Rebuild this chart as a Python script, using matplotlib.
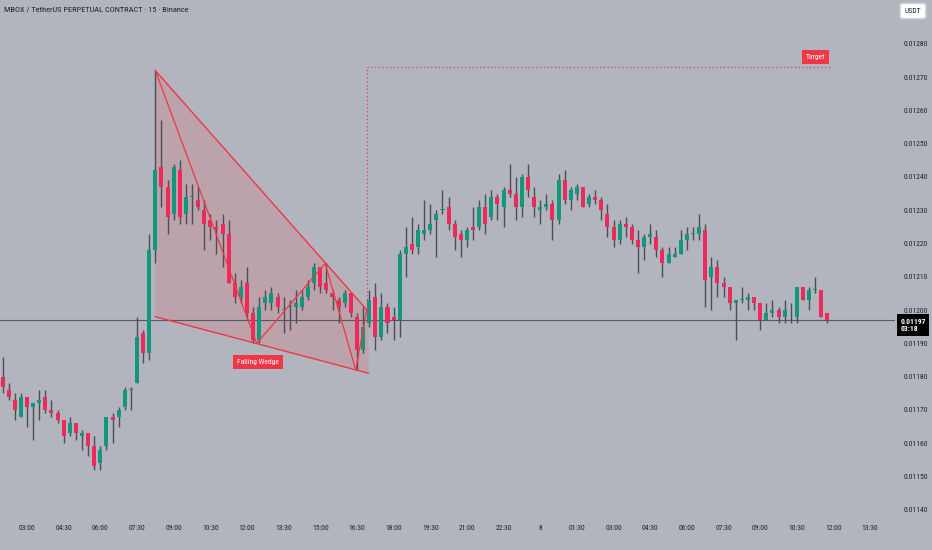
import numpy as np
import matplotlib.pyplot as plt
from matplotlib.patches import Polygon

# 15-minute candles, x = candle index counted from 03:00 of day 1
t = np.arange(-4, 132)

opens = [0.01180, 0.01176, 0.01173, 0.01168, 0.01174, 0.01171, 0.01172, 0.01174, 0.01170, 0.01169,
         0.01167, 0.01163, 0.01166, 0.01162, 0.01163, 0.01159, 0.01154, 0.01159, 0.01168, 0.01168,
         0.01171, 0.01176, 0.01178, 0.01193, 0.01187, 0.01218, 0.01243, 0.01237, 0.01229, 0.01242,
         0.01229, 0.01234, 0.01233, 0.01230, 0.01227, 0.01225, 0.01226, 0.01223, 0.01208, 0.01204,
         0.01208, 0.01199, 0.01191, 0.01202, 0.01202, 0.01204, 0.01200, 0.01201, 0.01201, 0.01201,
         0.01204, 0.01208, 0.01213, 0.01208, 0.01205, 0.01203, 0.01202, 0.01205, 0.01198, 0.01188,
         0.01196, 0.01204, 0.01192, 0.01201, 0.01198, 0.01197, 0.01217, 0.01220, 0.01219, 0.01223,
         0.01224, 0.01227, 0.01230, 0.01231, 0.01226, 0.01223, 0.01221, 0.01225, 0.01225, 0.01231,
         0.01228, 0.01234, 0.01231, 0.01236, 0.01235, 0.01231, 0.01240, 0.01234, 0.01230, 0.01231,
         0.01232, 0.01227, 0.01239, 0.01233, 0.01235, 0.01237, 0.01232, 0.01234, 0.01233, 0.01229,
         0.01225, 0.01221, 0.01226, 0.01225, 0.01221, 0.01219, 0.01222, 0.01222, 0.01218, 0.01214,
         0.01216, 0.01217, 0.01221, 0.01223, 0.01223, 0.01224, 0.01210, 0.01213, 0.01208, 0.01207,
         0.01202, 0.01203, 0.01203, 0.01204, 0.01202, 0.01197, 0.01199, 0.01200, 0.01198, 0.01199,
         0.01198, 0.01207, 0.01203, 0.01206, 0.01206, 0.01199]
highs = [0.01186, 0.01178, 0.01175, 0.01175, 0.01174, 0.01172, 0.01176, 0.01176, 0.01173, 0.01170,
         0.01167, 0.01168, 0.01166, 0.01164, 0.01163, 0.01162, 0.01159, 0.01168, 0.01169, 0.01171,
         0.01177, 0.01177, 0.01198, 0.01194, 0.01223, 0.01272, 0.01257, 0.01239, 0.01244, 0.01245,
         0.01238, 0.01238, 0.01237, 0.01233, 0.01229, 0.01227, 0.01229, 0.01227, 0.01211, 0.01209,
         0.01213, 0.01201, 0.01204, 0.01206, 0.01207, 0.01205, 0.01204, 0.01203, 0.01206, 0.01206,
         0.01209, 0.01214, 0.01213, 0.01214, 0.01206, 0.01204, 0.01206, 0.01205, 0.01199, 0.01201,
         0.01206, 0.01208, 0.01205, 0.01202, 0.01201, 0.01218, 0.01225, 0.01228, 0.01226, 0.01233,
         0.01232, 0.01230, 0.01236, 0.01234, 0.01227, 0.01224, 0.01225, 0.01231, 0.01233, 0.01235,
         0.01236, 0.01235, 0.01237, 0.01244, 0.01240, 0.01241, 0.01244, 0.01237, 0.01233, 0.01235,
         0.01233, 0.01241, 0.01242, 0.01237, 0.01238, 0.01237, 0.01235, 0.01236, 0.01234, 0.01232,
         0.01227, 0.01227, 0.01228, 0.01226, 0.01224, 0.01223, 0.01226, 0.01224, 0.01219, 0.01219,
         0.01219, 0.01224, 0.01225, 0.01225, 0.01229, 0.01226, 0.01216, 0.01215, 0.01210, 0.01207,
         0.01203, 0.01207, 0.01205, 0.01204, 0.01202, 0.01202, 0.01203, 0.01201, 0.01203, 0.01202,
         0.01207, 0.01207, 0.01207, 0.01210, 0.01206, 0.01199]
lows = [0.01175, 0.01173, 0.01167, 0.01168, 0.01165, 0.01161, 0.01167, 0.01169, 0.01168, 0.01166,
        0.01160, 0.01162, 0.01161, 0.01158, 0.01156, 0.01152, 0.01152, 0.01158, 0.01160, 0.01165,
        0.01170, 0.01170, 0.01178, 0.01184, 0.01185, 0.01214, 0.01231, 0.01223, 0.01227, 0.01226,
        0.01226, 0.01226, 0.01230, 0.01218, 0.01221, 0.01217, 0.01213, 0.01208, 0.01202, 0.01202,
        0.01197, 0.01190, 0.01190, 0.01200, 0.01200, 0.01199, 0.01193, 0.01194, 0.01196, 0.01200,
        0.01203, 0.01206, 0.01205, 0.01205, 0.01200, 0.01196, 0.01201, 0.01198, 0.01182, 0.01187,
        0.01195, 0.01188, 0.01191, 0.01193, 0.01191, 0.01192, 0.01210, 0.01217, 0.01217, 0.01221,
        0.01223, 0.01216, 0.01229, 0.01224, 0.01218, 0.01216, 0.01219, 0.01221, 0.01224, 0.01223,
        0.01227, 0.01227, 0.01225, 0.01234, 0.01227, 0.01228, 0.01234, 0.01228, 0.01226, 0.01230,
        0.01221, 0.01226, 0.01232, 0.01230, 0.01233, 0.01231, 0.01231, 0.01232, 0.01227, 0.01222,
        0.01219, 0.01220, 0.01222, 0.01220, 0.01211, 0.01215, 0.01220, 0.01216, 0.01210, 0.01214,
        0.01216, 0.01217, 0.01218, 0.01221, 0.01221, 0.01201, 0.01200, 0.01204, 0.01204, 0.01200,
        0.01191, 0.01202, 0.01200, 0.01200, 0.01194, 0.01197, 0.01198, 0.01196, 0.01196, 0.01196,
        0.01196, 0.01203, 0.01200, 0.01205, 0.01198, 0.01196]
closes = [0.01177, 0.01174, 0.01170, 0.01174, 0.01171, 0.01172, 0.01173, 0.01170, 0.01169, 0.01167,
          0.01162, 0.01166, 0.01163, 0.01163, 0.01159, 0.01153, 0.01158, 0.01168, 0.01167, 0.01170,
          0.01176, 0.01176, 0.01192, 0.01187, 0.01218, 0.01242, 0.01237, 0.01228, 0.01243, 0.01228,
          0.01234, 0.01234, 0.01231, 0.01226, 0.01225, 0.01224, 0.01223, 0.01208, 0.01204, 0.01207,
          0.01199, 0.01191, 0.01201, 0.01204, 0.01205, 0.01201, 0.01200, 0.01201, 0.01202, 0.01204,
          0.01207, 0.01213, 0.01207, 0.01206, 0.01204, 0.01201, 0.01205, 0.01199, 0.01188, 0.01195,
          0.01203, 0.01192, 0.01201, 0.01196, 0.01197, 0.01217, 0.01219, 0.01218, 0.01224, 0.01224,
          0.01226, 0.01229, 0.01230, 0.01226, 0.01222, 0.01221, 0.01224, 0.01224, 0.01231, 0.01226,
          0.01234, 0.01232, 0.01236, 0.01235, 0.01231, 0.01240, 0.01236, 0.01231, 0.01231, 0.01232,
          0.01227, 0.01239, 0.01233, 0.01236, 0.01237, 0.01231, 0.01234, 0.01233, 0.01230, 0.01225,
          0.01221, 0.01226, 0.01225, 0.01221, 0.01219, 0.01222, 0.01223, 0.01218, 0.01214, 0.01217,
          0.01217, 0.01221, 0.01223, 0.01223, 0.01225, 0.01209, 0.01213, 0.01208, 0.01207, 0.01202,
          0.01203, 0.01203, 0.01204, 0.01202, 0.01197, 0.01199, 0.01200, 0.01198, 0.01200, 0.01199,
          0.01207, 0.01203, 0.01206, 0.01206, 0.01198, 0.01197]

time_ticks = np.arange(0, 139, 6)
time_labels = ['03:00', '04:30', '06:00', '07:30', '09:00', '10:30', '12:00', '13:30',
               '15:00', '16:30', '18:00', '19:30', '21:00', '22:30', '8', '01:30',
               '03:00', '04:30', '06:00', '07:30', '09:00', '10:30', '12:00', '13:30']
price_ticks = np.arange(0.01140, 0.012801, 0.0001)

# falling wedge drawing (candle index, price)
wedge_t = [21, 37.6, 48.8, 53.8, 55.6]
wedge_p = [0.01272, 0.01190, 0.01214, 0.01182, 0.01200]
upper_t, upper_p = [21, 55.9], [0.01272, 0.011995]
lower_t, lower_p = [21, 55.9], [0.01198, 0.01181]
target_t = [55.6, 55.6, 131.6]
target_p = [0.01201, 0.01273, 0.01273]
last_price = 0.01197

bg = '#b2b5be'
green = '#13977c'
red = '#ee2a5c'
line_red = '#f23645'
narrow = ['Liberation Sans Narrow', 'Roboto Condensed', 'DejaVu Sans']

fig = plt.figure(figsize=(9.32, 5.5), dpi=100, facecolor=bg)
ax = fig.add_axes([0, 33/550, 895/932, 517/550], facecolor=bg)

o = np.array(opens); h = np.array(highs); l = np.array(lows); c = np.array(closes)
cols = np.where(c >= o, green, red)
ax.vlines(t, l, h, color='#4a4e56', linewidth=1.0, zorder=2)
body = np.maximum(np.abs(c - o), 0.0000025)
ax.bar(t, body, bottom=np.minimum(o, c), width=0.66, color=cols, linewidth=0, zorder=3)

# wedge fill and lines
poly = Polygon([(upper_t[0], upper_p[0]), (upper_t[1], upper_p[1]),
                (lower_t[1], lower_p[1]), (lower_t[0], lower_p[0])],
               closed=True, facecolor=line_red, alpha=0.15, edgecolor='none', zorder=1)
ax.add_patch(poly)
ax.plot(upper_t, upper_p, color=line_red, lw=1.0, zorder=4)
ax.plot(lower_t, lower_p, color=line_red, lw=1.0, zorder=4)
ax.plot(wedge_t, wedge_p, color=line_red, lw=0.9, zorder=4)
ax.text(37.8, 0.011844, 'Falling Wedge', ha='center', va='center', fontsize=5.5,
        color='white', family=narrow, zorder=6,
        bbox=dict(boxstyle='square,pad=0.55', fc=line_red, ec='none'))

# target projection
ax.plot(target_t, target_p, color=line_red, lw=0.9, ls=(0, (1, 2)), zorder=4)
ax.text(129.1, 0.012760, 'Target', ha='center', va='center', fontsize=5.5,
        color='white', family=narrow, zorder=6,
        bbox=dict(boxstyle='square,pad=0.5', fc=line_red, ec='none'))

ax.axhline(last_price, color='#55585f', lw=0.8, zorder=1)

ax.set_xlim(-4.42, 142.06)
ax.set_ylim(0.011378, 0.012932)
ax.set_xticks(time_ticks)
ax.set_xticklabels(time_labels)
ax.set_yticks(price_ticks)
ax.set_yticklabels(['%.5f' % v for v in price_ticks])
ax.yaxis.tick_right()
ax.tick_params(axis='both', length=0, labelsize=5.5, colors='#1e222d')
ax.tick_params(axis='x', pad=6)
ax.tick_params(axis='y', pad=6)
for lab in ax.get_xticklabels() + ax.get_yticklabels():
    lab.set_family(narrow)
for s in ax.spines.values():
    s.set_visible(False)

# last price marker on the scale (price line sits on its first row)
ax.text(1.006, last_price - 0.000015, '0.01197\n03:18', transform=ax.get_yaxis_transform(),
        ha='left', va='center', fontsize=5.5, color='white', family=narrow,
        linespacing=1.15, fontweight='bold', clip_on=False, zorder=7,
        bbox=dict(boxstyle='square,pad=0.45', fc='black', ec='none'))

fig.text(4/932, 1 - 10/550, 'MBOX / TetherUS PERPETUAL CONTRACT · 15 · Binance',
         ha='left', va='center', fontsize=6, color='#1e222d', family=narrow)
fig.text(913/932, 1 - 11/550, 'USDT', ha='center', va='center', fontsize=5.5,
         color='#1e222d', family=narrow,
         bbox=dict(boxstyle='round,pad=0.6,rounding_size=0.3', fc='white', ec='#d0d3da'))

fig.savefig('out.png', dpi=100, facecolor=bg)
